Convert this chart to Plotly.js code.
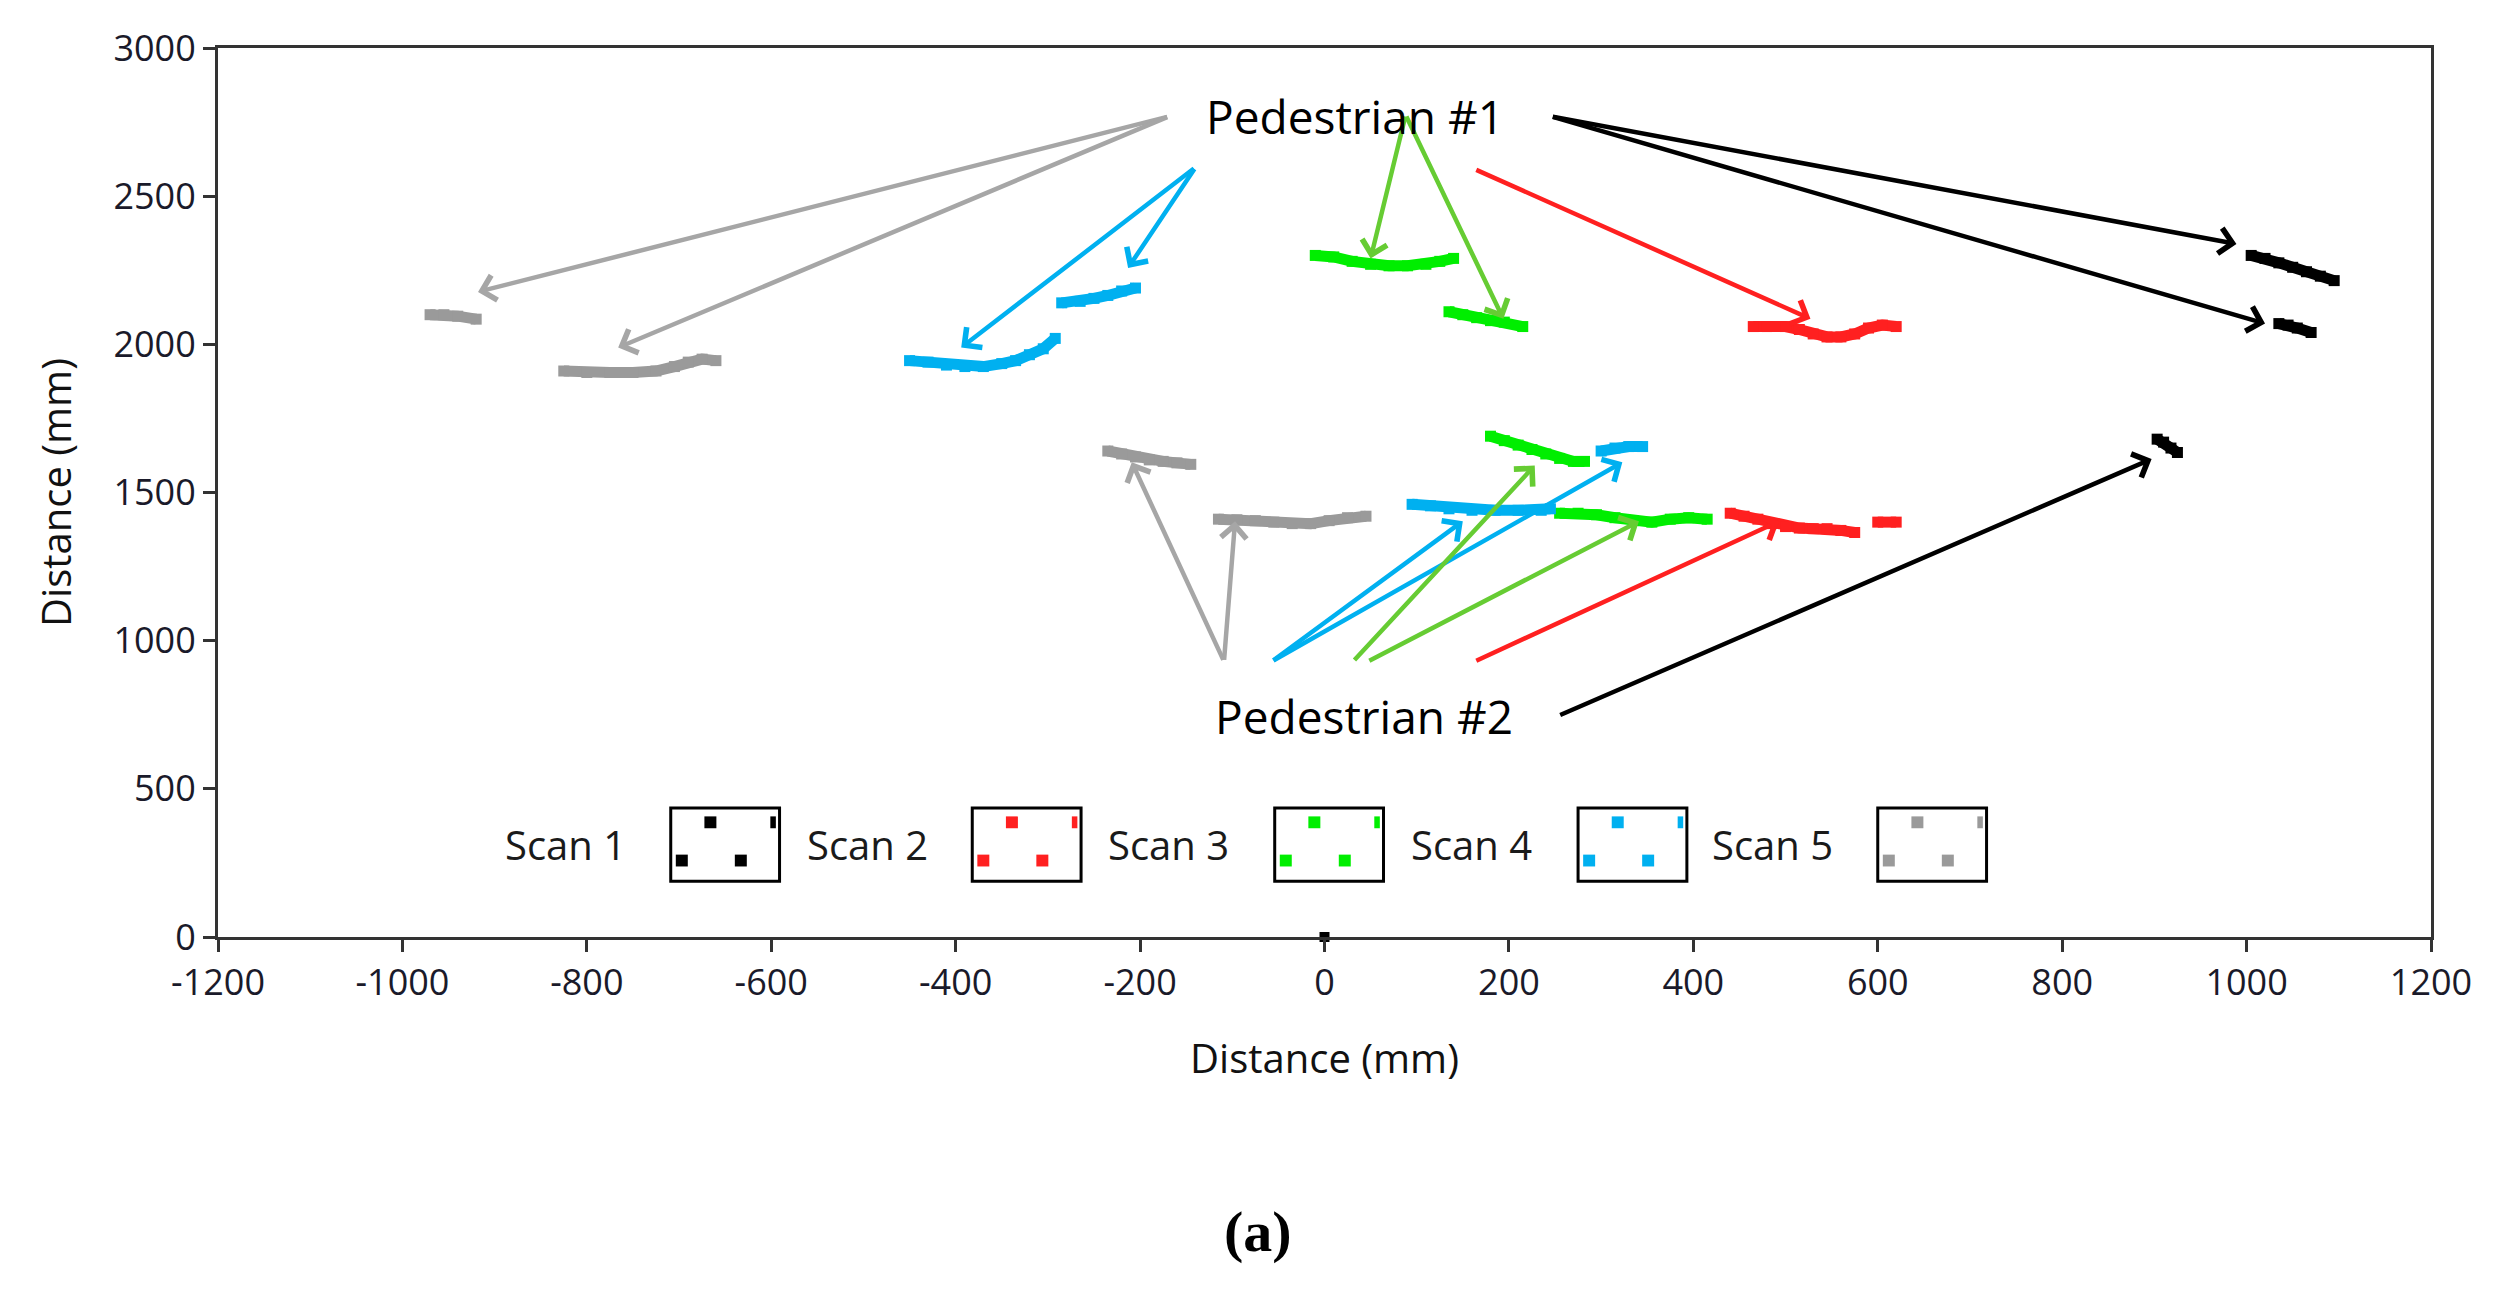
<!DOCTYPE html>
<html>
<head>
<meta charset="utf-8">
<script src="https://cdn.plot.ly/plotly-3.0.1.min.js"></script>
<style>html,body{margin:0;padding:0;background:#fff;}#chart{width:2499px;height:1294px;}</style>
</head>
<body>
<div id="chart"></div>
<script>
// ---- Data (mm); null separates segments ----
const scanNames = ["Scan 1", "Scan 2", "Scan 3", "Scan 4", "Scan 5"];
const scanColors = ["#000000", "#ff2020", "#00ee00", "#00b0f0", "#9a9a9a"];
const arrowColors = ["#000000", "#ff2020", "#66cc33", "#00b0f0", "#a6a6a6"];

const scan1X = [1005,1020,1035,1050,1065,1080,1095,null,1035,1045,1055,1070,null,903,910,918,925];
const scan1Y = [2300,2290,2275,2260,2245,2230,2215,null,2070,2065,2055,2040,null,1680,1670,1650,1635];

const scan2X = [465,480,500,515,530,545,560,575,590,605,620,null,440,455,470,485,500,515,530,545,560,575,null,600,620];
const scan2Y = [2060,2060,2060,2050,2035,2025,2025,2035,2055,2065,2060,null,1430,1420,1410,1395,1385,1380,1378,1378,1372,1365,null,1400,1400];

const scan3X = [-10,10,30,50,70,90,110,125,140,null,135,150,165,180,195,215,null,180,195,210,225,240,255,270,282,null,255,275,295,315,335,355,375,395,415];
const scan3Y = [2300,2295,2280,2270,2265,2265,2270,2280,2290,null,2110,2100,2090,2080,2075,2060,null,1690,1675,1660,1645,1630,1615,1605,1605,null,1430,1430,1425,1415,1405,1400,1410,1415,1410];

const scan4X = [-450,-430,-410,-390,-370,-350,-335,-320,-305,-292,null,-285,-265,-250,-235,-220,-205,null,95,115,135,160,185,210,235,245,null,300,315,330,345];
const scan4Y = [1945,1940,1930,1925,1925,1935,1945,1965,1985,2020,null,2140,2145,2155,2165,2180,2190,null,1460,1455,1445,1440,1440,1440,1440,1445,null,1640,1650,1655,1655];

const scan5X = [-970,-955,-940,-920,null,-825,-800,-775,-750,-725,-705,-690,-675,-660,null,-235,-220,-205,-190,-175,-160,-145,null,-115,-95,-75,-55,-35,-15,5,25,45];
const scan5Y = [2100,2100,2095,2085,null,1910,1905,1905,1905,1910,1925,1940,1950,1945,null,1640,1630,1620,1610,1605,1600,1595,null,1410,1408,1405,1400,1395,1395,1405,1415,1420];

const sensorX = [0];
const sensorY = [0];

const xTicks = [-1200,-1000,-800,-600,-400,-200,0,200,400,600,800,1000,1200];
const yTicks = [0,500,1000,1500,2000,2500,3000];

// ---- Annotation arrows: scan index, tail (x,y), head (x,y) in data units ----
const arrowScan  = [4,4,3,3,2,2,1,0,0, 4,4,3,3,2,2,1,0];
const arrowTailX = [-169,-169,-140,-140,88,88,163,246,246, -109,-109,-57,-57,31,47,163,254];
const arrowTailY = [2769,2769,2597,2597,2774,2774,2591,2769,2769, 930,930,930,930,930,930,930,747];
const arrowHeadX = [-918,-766,-394,-213,50,194,527,989,1020, -209,-97,150,323,228,341,493,897];
const arrowHeadY = [2177,1989,1989,2258,2290,2086,2086,2339,2070, 1602,1403,1403,1602,1591,1403,1403,1613];

const labelText = ["Pedestrian #1", "Pedestrian #2"];
const labelX = [33, 43];
const labelY = [2769, 747];

// legend boxes (data units)
const legendTextX = [-823,-496,-169,159,486];
const legendBoxX0 = [-709,-382,-54,275,600];
const legendBoxWidth = 118;
const legendBoxY = [188, 435];
const legendTextY = 312;

const FONT = "Open Sans, Noto Sans, sans-serif";

const xs = [scan1X, scan2X, scan3X, scan4X, scan5X];
const ys = [scan1Y, scan2Y, scan3Y, scan4Y, scan5Y];

const traces = xs.map((x, i) => ({
  type: "scatter", mode: "lines+markers", name: scanNames[i],
  x: x, y: ys[i], connectgaps: false,
  line: {color: scanColors[i], width: 11},
  marker: {symbol: "square", size: 11, color: scanColors[i]},
  showlegend: false, hoverinfo: "x+y+name"
}));
traces.push({
  type: "scatter", mode: "markers", name: "Sensor", x: sensorX, y: sensorY,
  marker: {symbol: "square", size: 10, color: "#000"}, cliponaxis: false, showlegend: false
});

const annotations = [];
for (let i = 0; i < arrowScan.length; i++) {
  annotations.push({
    x: arrowHeadX[i], y: arrowHeadY[i], xref: "x", yref: "y",
    ax: arrowTailX[i], ay: arrowTailY[i], axref: "x", ayref: "y",
    text: "", showarrow: true, arrowhead: 4, arrowsize: 1.1, arrowwidth: 4.5,
    arrowcolor: arrowColors[arrowScan[i]], standoff: 0, startstandoff: 0
  });
}
for (let i = 0; i < labelText.length; i++) {
  annotations.push({
    x: labelX[i], y: labelY[i], xref: "x", yref: "y", text: labelText[i],
    showarrow: false, font: {family: FONT, size: 46, color: "#000"},
    bgcolor: "rgba(255,255,255,0)"
  });
}
const shapes = [];
// relative positions of the little squares inside each legend box
const dotRelX = [43, 111, 12, 76];
const dotRelY = [48, 48, 177, 177];
const dotW = [13, 6, 13, 13];
for (let i = 0; i < scanNames.length; i++) {
  annotations.push({
    x: legendTextX[i], y: legendTextY, xref: "x", yref: "y", text: scanNames[i],
    showarrow: false, font: {family: FONT, size: 40, color: "#1a1a1a"}
  });
  shapes.push({
    type: "rect", xref: "x", yref: "y",
    x0: legendBoxX0[i], x1: legendBoxX0[i] + legendBoxWidth, y0: legendBoxY[0], y1: legendBoxY[1],
    line: {color: "#000", width: 3}, fillcolor: "rgba(0,0,0,0)"
  });
  for (let k = 0; k < dotRelX.length; k++) {
    const cx = legendBoxX0[i] + dotRelX[k];
    const cy = legendBoxY[1] - dotRelY[k];
    shapes.push({
      type: "rect", xref: "x", yref: "y",
      x0: cx - dotW[k] / 2, x1: cx + dotW[k] / 2, y0: cy - 20, y1: cy + 20,
      line: {width: 0}, fillcolor: scanColors[i]
    });
  }
}
annotations.push({
  x: 0.47, y: -0.37, xref: "paper", yref: "paper", text: "<b>(a)</b>",
  showarrow: false, font: {family: "Liberation Serif, serif", size: 58, color: "#000"}
});

const layout = {
  width: 2499, height: 1294,
  margin: {l: 218, r: 68, t: 48, b: 357},
  paper_bgcolor: "#fff", plot_bgcolor: "#fff",
  showlegend: false,
  font: {family: FONT, color: "#222"},
  xaxis: {
    range: [-1200, 1200], tickvals: xTicks, ticktext: xTicks.map(String),
    showgrid: false, zeroline: false, showline: true, linecolor: "#333", linewidth: 3, mirror: true,
    ticks: "outside", ticklen: 12, tickwidth: 3, tickcolor: "#333",
    tickfont: {family: FONT, size: 36, color: "#1a1a2a"},
    title: {text: "Distance (mm)", font: {family: FONT, size: 40, color: "#111"}, standoff: 40}
  },
  yaxis: {
    range: [0, 3000], tickvals: yTicks, ticktext: yTicks.map(String),
    showgrid: false, zeroline: false, showline: true, linecolor: "#333", linewidth: 3, mirror: true,
    ticks: "outside", ticklen: 12, tickwidth: 3, tickcolor: "#333",
    tickfont: {family: FONT, size: 36, color: "#1a1a2a"},
    title: {text: "Distance (mm)", font: {family: FONT, size: 40, color: "#111"}, standoff: 30}
  },
  annotations: annotations,
  shapes: shapes
};

Plotly.newPlot("chart", traces, layout, {displayModeBar: false, staticPlot: true});
</script>
</body>
</html>
